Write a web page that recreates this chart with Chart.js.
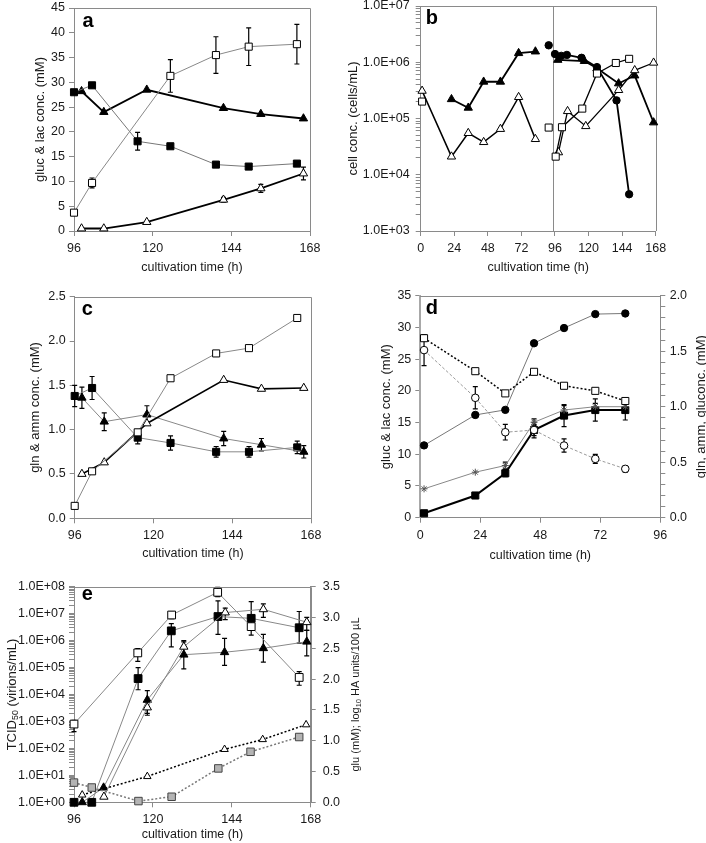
<!DOCTYPE html>
<html>
<head>
<meta charset="utf-8">
<script src="https://cdn.jsdelivr.net/npm/chart.js@4.4.1/dist/chart.umd.min.js"></script>
<style>
  html, body { margin: 0; padding: 0; background: #fff; }
  #wrap { position: relative; width: 706px; height: 843px; overflow: hidden; }
  #wrap canvas { position: absolute; }
</style>
</head>
<body>
<div id="wrap">
  <canvas id="chA" width="340" height="280" style="left:0;top:0"></canvas>
  <canvas id="chB" width="366" height="280" style="left:340px;top:0"></canvas>
  <canvas id="chC" width="340" height="285" style="left:0;top:280px"></canvas>
  <canvas id="chD" width="366" height="285" style="left:340px;top:280px"></canvas>
  <canvas id="chE" width="370" height="278" style="left:0;top:565px"></canvas>
</div>
<script>
// ========== DATOS ==========
// panel a  (gluc & lac, mM)
const aSqFX = [96, 101.5, 115.4, 125.4, 139.3, 149.3, 164];
const aSqFY = [28, 29.4, 18.1, 17.1, 13.4, 13.0, 13.6];
const aSqFErr = [0, 0, 1.8, 0, 0, 0, 0];
const aSqOX = [96, 101.5, 125.4, 139.3, 149.3, 164];
const aSqOY = [3.7, 9.7, 31.3, 35.5, 37.2, 37.7];
const aSqOErr = [0, 1.0, 3.3, 3.7, 3.8, 4.0];
const aTriX = [98.3, 105.1, 118.2, 141.6, 153, 166];
const aTriFY = [28.2, 24.0, 28.5, 24.8, 23.6, 22.7];
const aTriOY = [0.5, 0.5, 1.8, 6.3, 8.6, 11.6];
const aTriOErr = [0, 0, 0, 0.5, 0.8, 1.3];

// panel b  (cells/mL, log)
const bL_TriFX = [22, 34, 45, 57, 70, 82];
const bL_TriFY = [2.2e5, 1.55e5, 4.5e5, 4.5e5, 1.45e6, 1.55e6];
const bL_TriOX = [1, 22, 34, 45, 57, 70, 82];
const bL_TriOY = [3.1e5, 2.1e4, 5.5e4, 3.8e4, 6.5e4, 2.4e5, 4.3e4];
const bL_SqOX = [1];
const bL_SqOY = [2.0e5];
const bIsoX = [91.5];
const bIsoCirY = [2.0e6];
const bIsoSqY = [6.9e4];
const bR_CirX = [96, 100.5, 104.5, 115, 126, 140, 149];
const bR_CirY = [1.4e6, 1.3e6, 1.35e6, 1.2e6, 8.2e5, 2.1e5, 4.5e3];
const bR_TriFX = [98, 117, 126, 141.5, 153, 166.5];
const bR_TriFY = [1.1e6, 1.05e6, 7.8e5, 4.2e5, 5.8e5, 8.5e4];
const bR_SqOX = [96.5, 101, 115.5, 126, 139.5, 149];
const bR_SqOY = [2.1e4, 7.0e4, 1.5e5, 6.3e5, 9.7e5, 1.15e6];
const bR_TriOX = [98.5, 105, 118, 141.5, 153, 166.5];
const bR_TriOY = [2.5e4, 1.35e5, 7.3e4, 3.2e5, 7.2e5, 9.8e5];
const bSplitTime = 94.5;

// panel c  (gln & amm, mM)
const cSqX = [96, 101.3, 115.2, 125.2, 139.1, 149.1, 163.8];
const cSqOY = [0.14, 0.53, 0.97, 1.58, 1.86, 1.92, 2.26];
const cSqFY = [1.38, 1.47, 0.91, 0.85, 0.75, 0.75, 0.80];
const cSqFErr = [0.12, 0.13, 0.07, 0.08, 0.06, 0.06, 0.07];
const cTriX = [98.2, 105, 118, 141.4, 152.9, 165.8];
const cTriFY = [1.36, 1.09, 1.17, 0.90, 0.83, 0.75];
const cTriFErr = [0.12, 0.10, 0.10, 0.08, 0.07, 0.07];
const cTriOY = [0.50, 0.63, 1.07, 1.56, 1.46, 1.47];

// panel d
const dX = [1.5, 22, 34, 45.5, 57.5, 70, 82];
const dLacY = [11.4, 16.2, 17.0, 27.5, 29.9, 32.1, 32.2];       // left axis
const dGlcY = [28.3, 23.1, 19.6, 23.0, 20.8, 20.0, 18.4];       // left axis
const dGlnY = [1.51, 1.08, 0.77, 0.79, 0.65, 0.53, 0.44];       // right axis
const dGlnErr = [0.14, 0.10, 0.07, 0.05, 0.06, 0.04, 0.03];
const dAmmY = [0.04, 0.20, 0.40, 0.79, 0.92, 0.97, 0.97];       // right axis
const dAmmErr = [0, 0, 0.03, 0.07, 0.10, 0.10, 0.09];
const dGlconY = [0.26, 0.41, 0.47, 0.86, 0.97, 1.00, 1.00];     // right axis
const dGlconErr = [0, 0, 0.03, 0.03, 0.04, 0.03, 0.03];

// panel e  (TCID50 log + glu / HA right axis)
const eSqOX = [96, 115.4, 125.7, 139.7, 149.9, 164.5];
const eSqOY = [8e2, 3.5e5, 8.9e6, 6.2e7, 3.3e6, 4.3e4];
const eSqOLo = [4.2e2, 1.7e5, 6.5e6, 4.3e7, 1.6e6, 2.2e4];
const eSqOHi = [1.1e3, 5.1e5, 1.2e7, 9.5e7, 5.5e6, 7.1e4];
const eSqFX = [96, 101.4, 115.5, 125.6, 139.8, 149.9, 164.5];
const eSqFY = [1, 1, 3.9e4, 2.3e6, 7.8e6, 6.7e6, 3.0e6];
const eSqFLo = [null, null, 1.5e4, 5.9e5, 1.7e6, 6.7e6, 8e5];
const eSqFHi = [null, null, 1.0e5, 4.3e6, 3.0e7, 2.8e7, 1.2e7];
const eTriFX = [98.5, 105, 118.3, 129.4, 141.8, 153.6, 166.8];
const eTriFY = [1, 3.5, 6.3e3, 3.0e5, 3.7e5, 5.2e5, 9.1e5];
const eTriFLo = [null, null, 2e3, 9e4, 1.2e5, 1.6e5, 2.7e5];
const eTriFHi = [null, null, 1.4e4, 1.0e6, 1.2e6, 1.7e6, 2.4e6];
const eTriOX = [105.1, 118.3, 129.4, 142, 153.6, 166.8];
const eTriOY = [1.6, 3.3e3, 5.9e5, 1.1e7, 1.45e7, 4.8e6];
const eTriOLo = [null, 1.7e3, 5.9e5, 6e6, 7.3e6, 2.4e6];
const eTriOHi = [null, 3.3e3, 9e5, 1.6e7, 2.3e7, 7.3e6];
const eGluX = [96, 101.4, 115.6, 125.7, 139.9, 149.7, 164.5];
const eGluY = [0.32, 0.24, 0.02, 0.09, 0.55, 0.82, 1.06];
const eHaX = [98.5, 118.3, 141.8, 153.4, 166.6];
const eHaY = [0.12, 0.42, 0.86, 1.02, 1.26];

// ========== ESTILO ==========
const AX = '#8a8a8a';
const TXT = '#1a1a1a';
const FONT = '"Liberation Sans", Arial, sans-serif';
const TICK_FONT = { family: FONT, size: 12.5 };
const YT_FONT = { family: FONT, size: 13, lineHeight: 1 };
const XT_FONT = { family: FONT, size: 12.5, lineHeight: 1 };

const MARK = {
    sqF: { pointStyle: 'rect', pointRadius: 5, pointBackgroundColor: '#000', pointBorderColor: '#000' },
    sqO: { pointStyle: 'rect', pointRadius: 5, pointBackgroundColor: '#fff', pointBorderColor: '#000' },
    sqG: { pointStyle: 'rect', pointRadius: 5.3, pointBackgroundColor: '#b4b4b4', pointBorderColor: '#444' },
    triF: { pointStyle: 'triangle', pointRadius: 4.8, pointBackgroundColor: '#000', pointBorderColor: '#000' },
    triO: { pointStyle: 'triangle', pointRadius: 4.8, pointBackgroundColor: '#fff', pointBorderColor: '#000' },
    cirF: { pointStyle: 'circle', pointRadius: 3.7, pointBackgroundColor: '#000', pointBorderColor: '#000' },
    cirO: { pointStyle: 'circle', pointRadius: 3.8, pointBackgroundColor: '#fff', pointBorderColor: '#000' },
    star: { pointStyle: 'star', pointRadius: 3.5, pointBackgroundColor: '#fff', pointBorderColor: '#555' },
};

function serie(xs, ys, mark, color, width, extra) {
    return Object.assign({
        data: xs.map((x, i) => ({ x: x, y: ys[i] })),
        showLine: true,
        borderColor: color,
        borderWidth: width,
        pointBorderWidth: 1,
        pointHoverRadius: 5,
        tension: 0,
        fill: false,
        clip: false,
    }, MARK[mark], extra || {});
}
function symErr(ys, err) {
    return {
        errLo: ys.map((y, i) => err[i] ? y - err[i] : null),
        errHi: ys.map((y, i) => err[i] ? y + err[i] : null),
    };
}

function xAxis(min, max, h, titlePad) {
    return {
        type: 'linear', min: min, max: max,
        ticks: { stepSize: 24, color: TXT, font: TICK_FONT, padding: 5, autoSkip: false, maxRotation: 0 },
        grid: { drawOnChartArea: false, drawTicks: true, tickLength: 5, color: AX, tickColor: AX },
        border: { color: AX, width: 1 },
        title: { display: true, text: 'cultivation time (h)', color: TXT, font: XT_FONT, padding: { top: 0, bottom: titlePad } },
        afterFit(s) { s.height = h; s.paddingLeft = 0; s.paddingRight = 0; },
    };
}
function yLin(min, max, step, w, title, titlePad, opts) {
    opts = opts || {};
    return {
        type: 'linear', position: opts.position || 'left', min: min, max: max,
        ticks: {
            stepSize: step, color: TXT, font: TICK_FONT, padding: opts.pad || 4, autoSkip: false,
            callback: opts.cb || ((v) => String(v)),
        },
        grid: { drawOnChartArea: false, drawTicks: true, tickLength: 5, color: AX, tickColor: AX },
        border: { color: opts.borderColor || AX, width: opts.borderWidth || 1 },
        title: { display: !!title, text: title || '', color: TXT, font: YT_FONT, padding: { top: titlePad || 0, bottom: 0 } },
        afterFit(s) { s.width = w; s.paddingTop = 0; s.paddingBottom = 0; },
    };
}
function yLog(expLo, expHi, w, title, titlePad, pad) {
    return {
        type: 'logarithmic', position: 'left', min: Math.pow(10, expLo), max: Math.pow(10, expHi),
        afterBuildTicks(s) {
            const t = [];
            for (let e = expLo; e < expHi; e++) {
                for (let m = 1; m < 10; m++) t.push({ value: m * Math.pow(10, e) });
            }
            t.push({ value: Math.pow(10, expHi) });
            s.ticks = t;
        },
        ticks: {
            color: TXT, font: TICK_FONT, padding: pad, autoSkip: false,
            callback(v) {
                const e = Math.round(Math.log10(v));
                return Math.abs(v / Math.pow(10, e) - 1) < 1e-6 ? '1.0E+' + String(e).padStart(2, '0') : '';
            },
        },
        grid: { drawOnChartArea: false, drawTicks: true, tickLength: 5, color: AX, tickColor: AX },
        border: { color: AX, width: 1 },
        title: { display: !!title, text: title || '', color: TXT, font: YT_FONT, padding: { top: titlePad || 0, bottom: 0 } },
        afterFit(s) { s.width = w; s.paddingTop = 0; s.paddingBottom = 0; },
    };
}

// ========== PLUGINS ==========
const errorBars = {
    id: 'errorBars',
    beforeDatasetsDraw(chart) {
        const ctx = chart.ctx;
        chart.data.datasets.forEach((ds, di) => {
            if (!ds.errLo) return;
            const meta = chart.getDatasetMeta(di);
            const ys = chart.scales[meta.yAxisID];
            ctx.save();
            ctx.strokeStyle = '#000';
            ctx.lineWidth = 1.2;
            meta.data.forEach((p, i) => {
                const lo = ds.errLo[i], hi = ds.errHi[i];
                if (lo == null || hi == null) return;
                const y1 = ys.getPixelForValue(lo), y2 = ys.getPixelForValue(hi);
                ctx.beginPath();
                ctx.moveTo(p.x, y1); ctx.lineTo(p.x, y2);
                ctx.moveTo(p.x - 2.5, y1); ctx.lineTo(p.x + 2.5, y1);
                ctx.moveTo(p.x - 2.5, y2); ctx.lineTo(p.x + 2.5, y2);
                ctx.stroke();
            });
            ctx.restore();
        });
    },
};

function drawVTitle(ctx, cx, cy, parts, size) {
    ctx.save();
    ctx.translate(cx, cy);
    ctx.rotate(-Math.PI / 2);
    ctx.fillStyle = TXT;
    ctx.textAlign = 'left';
    ctx.textBaseline = 'middle';
    const fontOf = (p) => (p.sub ? size * 0.68 : size) + 'px ' + FONT;
    const widths = parts.map((p) => { ctx.font = fontOf(p); return ctx.measureText(p.t).width; });
    let x = -widths.reduce((a, b) => a + b, 0) / 2;
    parts.forEach((p, i) => {
        ctx.font = fontOf(p);
        ctx.fillText(p.t, x, p.sub ? size * 0.3 : 0);
        x += widths[i];
    });
    ctx.restore();
}

const panelDeco = {
    id: 'panelDeco',
    beforeDatasetsDraw(chart, args, o) {
        const { ctx, chartArea: ca } = chart;
        ctx.save();
        ctx.strokeStyle = AX;
        ctx.lineWidth = 1;
        const t = Math.round(ca.top) + 0.5, r = Math.round(ca.right) + 0.5;
        ctx.beginPath();
        ctx.moveTo(Math.round(ca.left), t); ctx.lineTo(r, t); ctx.lineTo(r, Math.round(ca.bottom));
        ctx.stroke();
        if (o.vline != null) {
            const x = Math.round(chart.scales.x.getPixelForValue(o.vline)) + 0.5;
            ctx.beginPath();
            ctx.moveTo(x, ca.top); ctx.lineTo(x, ca.bottom);
            ctx.stroke();
        }
        ctx.restore();
    },
    afterDraw(chart, args, o) {
        const { ctx, chartArea: ca } = chart;
        ctx.save();
        ctx.fillStyle = '#000';
        ctx.font = 'bold 20px ' + FONT;
        ctx.textAlign = 'left';
        ctx.textBaseline = 'alphabetic';
        ctx.fillText(o.letter, ca.left + o.lx, ca.top + o.ly);
        ctx.restore();
        (o.vtitles || []).forEach((vt) => {
            drawVTitle(ctx, vt.x, (ca.top + ca.bottom) / 2, vt.parts, vt.size);
        });
    },
};

function makeChart(id, datasets, scales, padding, deco) {
    return new Chart(document.getElementById(id), {
        type: 'scatter',
        data: { datasets: datasets },
        options: {
            responsive: false,
            animation: false,
            devicePixelRatio: 1,
            layout: { padding: padding },
            plugins: { legend: { display: false }, tooltip: { enabled: false }, panelDeco: deco },
            scales: scales,
        },
        plugins: [errorBars, panelDeco],
    });
}

Chart.defaults.font.family = FONT;
Chart.defaults.color = TXT;

// ========== PANEL A ==========
makeChart('chA', [
    serie(aSqOX, aSqOY, 'sqO', '#888', 1, symErr(aSqOY, aSqOErr)),
    serie(aSqFX, aSqFY, 'sqF', '#777', 1, symErr(aSqFY, aSqFErr)),
    serie(aTriX, aTriOY, 'triO', '#000', 1.8, symErr(aTriOY, aTriOErr)),
    serie(aTriX, aTriFY, 'triF', '#000', 1.8),
], {
    x: xAxis(96, 168, 49, 6.5),
    y: yLin(0, 45, 5, 74, 'gluc & lac conc. (mM)', 33.5),
}, { top: 8, right: 30, left: 0, bottom: 0 }, { letter: 'a', lx: 8.5, ly: 19 });

// ========== PANEL B ==========
makeChart('chB', [
    serie(bL_TriOX, bL_TriOY, 'triO', '#000', 1.5),
    serie(bL_TriFX, bL_TriFY, 'triF', '#000', 1.8),
    serie(bL_SqOX, bL_SqOY, 'sqO', '#000', 1),
    serie(bIsoX, bIsoCirY, 'cirF', '#000', 1),
    serie(bIsoX, bIsoSqY, 'sqO', '#000', 1),
    serie(bR_SqOX, bR_SqOY, 'sqO', '#000', 1.3),
    serie(bR_TriOX, bR_TriOY, 'triO', '#000', 1.3),
    serie(bR_CirX, bR_CirY, 'cirF', '#000', 1.8),
    serie(bR_TriFX, bR_TriFY, 'triF', '#000', 1.8),
], {
    x: xAxis(0, 168, 49, 6.5),
    y: yLog(3, 7, 80.7, 'cell conc. (cells/mL)', 7, 6),
}, { top: 5, right: 50.3, left: 0, bottom: 0 }, { letter: 'b', lx: 5, ly: 18, vline: bSplitTime });

// ========== PANEL C ==========
makeChart('chC', [
    serie(cSqX, cSqOY, 'sqO', '#888', 1),
    serie(cTriX, cTriOY, 'triO', '#000', 1.6),
    serie(cTriX, cTriFY, 'triF', '#888', 1, symErr(cTriFY, cTriFErr)),
    serie(cSqX, cSqFY, 'sqF', '#888', 1, symErr(cSqFY, cSqFErr)),
], {
    x: xAxis(96, 168, 46.7, 5.5),
    y: yLin(0, 2.5, 0.5, 74.7, 'gln & amm conc. (mM)', 28.5, { cb: (v) => v.toFixed(1) }),
}, { top: 16.7, right: 29, left: 0, bottom: 0 }, { letter: 'c', lx: 7, ly: 18.5 });

// ========== PANEL D ==========
makeChart('chD', [
    serie(dX, dGlcY, 'sqO', '#000', 1.5, { borderDash: [2, 2] }),
    serie(dX, dGlnY, 'cirO', '#9a9a9a', 1, Object.assign({ yAxisID: 'y2', borderDash: [3, 2] }, symErr(dGlnY, dGlnErr))),
    serie(dX, dGlconY, 'star', '#888', 1, Object.assign({ yAxisID: 'y2' }, symErr(dGlconY, dGlconErr))),
    serie(dX, dAmmY, 'sqF', '#000', 2, Object.assign({ yAxisID: 'y2' }, symErr(dAmmY, dAmmErr))),
    serie(dX, dLacY, 'cirF', '#777', 1),
], {
    x: xAxis(0, 96, 47.3, 3.5),
    y: yLin(0, 35, 5, 80.3, 'gluc & lac conc. (mM)', 39.8, { borderColor: '#a8a8a8', borderWidth: 2 }),
    y2: yLin(0, 2, 0.1, 45.7, null, 0, {
        position: 'right', pad: 4.4,
        cb: (v) => (Math.round(v * 10) % 5 === 0 ? v.toFixed(1) : ''),
    }),
}, { top: 15.7, right: 0, left: 0, bottom: 0 }, {
    letter: 'd', lx: 5.4, ly: 18,
    vtitles: [{ x: 361.3, size: 13, parts: [{ t: 'gln, amm, gluconc. (mM)' }] }],
});

// ========== PANEL E ==========
makeChart('chE', [
    serie(eGluX, eGluY, 'sqG', '#777', 1.5, { yAxisID: 'y2', borderDash: [2, 2] }),
    serie(eHaX, eHaY, 'triO', '#000', 1.5, { yAxisID: 'y2', borderDash: [2, 2], pointRadius: 4.3 }),
    serie(eSqOX, eSqOY, 'sqO', '#888', 1, { errLo: eSqOLo, errHi: eSqOHi, pointRadius: 5.5 }),
    serie(eTriOX, eTriOY, 'triO', '#888', 1, { errLo: eTriOLo, errHi: eTriOHi }),
    serie(eTriFX, eTriFY, 'triF', '#888', 1, { errLo: eTriFLo, errHi: eTriFHi }),
    serie(eSqFX, eSqFY, 'sqF', '#888', 1, { errLo: eSqFLo, errHi: eSqFHi, pointRadius: 5.5 }),
], {
    x: xAxis(96, 168, 40.7, 2.5),
    y: yLog(0, 8, 74, null, 0, 4),
    y2: yLin(0, 3.5, 0.5, 59.3, null, 0, { position: 'right', pad: 7, cb: (v) => v.toFixed(1) }),
}, { top: 21.7, right: 0, left: 0, bottom: 0 }, {
    letter: 'e', lx: 7.7, ly: 13.5,
    vtitles: [
        { x: 12, size: 13, parts: [{ t: 'TCID' }, { t: '50', sub: true }, { t: ' (virions/mL)' }] },
        { x: 355.5, size: 11, parts: [{ t: 'glu (mM); log' }, { t: '10', sub: true }, { t: ' HA units/100 µL' }] },
    ],
});
</script>
</body>
</html>
